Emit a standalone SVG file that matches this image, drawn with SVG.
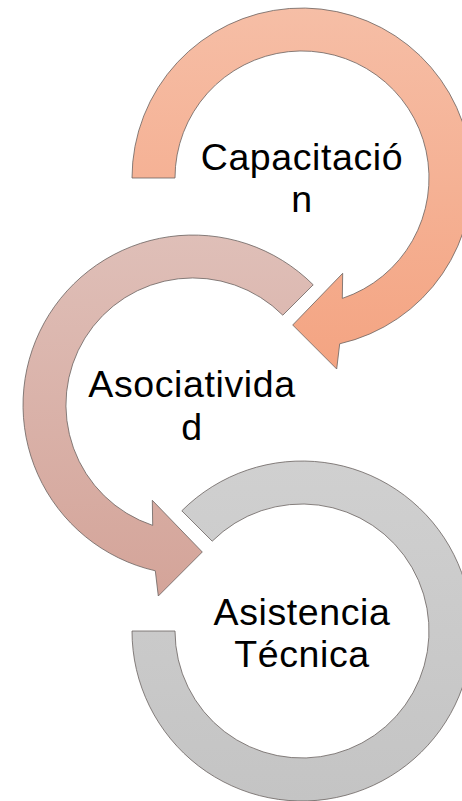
<svg xmlns="http://www.w3.org/2000/svg" width="462" height="801" viewBox="0 0 462 801">
  <defs>
    <linearGradient id="g1" x1="0" y1="0" x2="0" y2="1">
      <stop offset="0" stop-color="#F6BEA6"/>
      <stop offset="1" stop-color="#F4A482"/>
    </linearGradient>
    <linearGradient id="g2" x1="0" y1="0" x2="0" y2="1">
      <stop offset="0" stop-color="#DFBFB8"/>
      <stop offset="1" stop-color="#D4A499"/>
    </linearGradient>
    <linearGradient id="g3" x1="0" y1="0" x2="0" y2="1">
      <stop offset="0" stop-color="#D0D0D0"/>
      <stop offset="1" stop-color="#C4C4C4"/>
    </linearGradient>
  </defs>
  <style>
    .arc { stroke: #6a625f; stroke-width: 0.8; stroke-linejoin: miter; }
    .lbl { font-family: "Liberation Sans", Arial, sans-serif; font-size: 37.5px; letter-spacing: 0.6px; fill: #000000; text-anchor: middle; }
  </style>
  <rect width="462" height="801" fill="#ffffff"/>
  <g id="connectors"></g>
  <g id="node3">
    <path class="arc" fill="url(#g3)" d="M181.8,510.8 A170,170 0 1 1 132,631 L175,631 A127,127 0 1 0 212.2,541.2 Z"/>
    <text class="lbl"><tspan x="302" y="625">Asistencia</tspan><tspan x="302" y="667">Técnica</tspan></text>
  </g>
  <g id="node2">
    <path class="arc" fill="url(#g2)" d="M313.2,284.8 A170,170 0 1 0 155.3,570.8 L158.3,596 L202.3,552 L152.3,500.3 L152.7,525.4 A127,127 0 1 1 282.8,315.2 Z"/>
    <text class="lbl"><tspan x="192" y="397">Asociativida</tspan><tspan x="192" y="439.5">d</tspan></text>
  </g>
  <g id="node1">
    <path class="arc" fill="url(#g1)" d="M132,178 A170,170 0 1 1 339.7,343.8 L336.7,369 L292.7,325 L342.7,273.3 L342.3,298.4 A127,127 0 1 0 175,178 Z"/>
    <text class="lbl"><tspan x="302" y="170">Capacitació</tspan><tspan x="302" y="212">n</tspan></text>
  </g>
</svg>
